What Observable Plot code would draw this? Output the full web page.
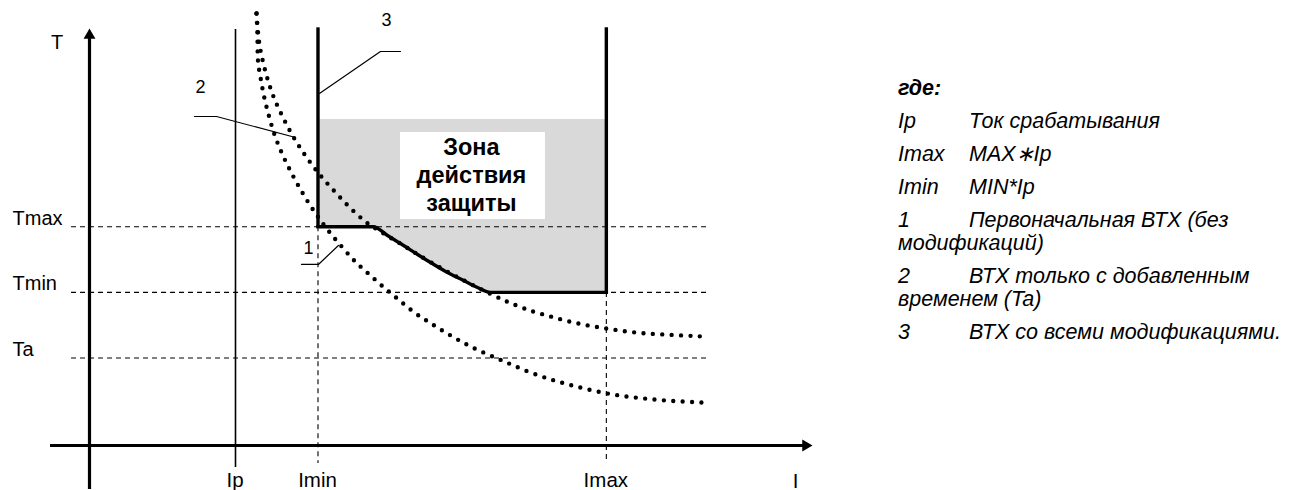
<!DOCTYPE html>
<html><head><meta charset="utf-8">
<script src="https://cdn.jsdelivr.net/npm/d3@7"></script>
<script src="https://cdn.jsdelivr.net/npm/@observablehq/plot@0.6"></script>
<style>
body{margin:0;background:#fff;font-family:"Liberation Sans",Arial,sans-serif;}
#wrap{position:relative;width:1293px;height:490px;overflow:hidden;background:#fff}
#chart{position:absolute;left:0;top:0}
#legend{position:absolute;left:898px;top:77px;font-size:21.5px;line-height:23px;font-style:italic;white-space:nowrap;color:#000}
#legend p{margin:0 0 10px 0}
#legend .k{display:inline-block;width:71px}
#legend .h{font-weight:bold}
</style></head><body>
<div id="wrap"><div id="chart"></div><div id="legend"></div></div>
<script>
// ---------- data ----------
// characteristic levels
const Ip = 1.0, Imin = 1.565, Imax = 3.54;
const Ta = 1.0, Tmin = 1.75, Tmax = 2.5;

// curve 1: initial characteristic (lower dotted)
const curve1I = [1.144, 1.151, 1.151, 1.158, 1.171, 1.192, 1.226, 1.260, 1.308, 1.363, 1.425, 1.493, 1.565, 1.644, 1.733, 1.822, 1.911, 2.014, 2.110, 2.219, 2.329, 2.438, 2.555, 2.664, 2.795, 2.904, 3.034, 3.158, 3.281, 3.411, 3.541, 3.671, 3.801, 3.932, 4.068, 4.199];
const curve1T = [4.937, 4.720, 4.434, 4.320, 4.217, 4.000, 3.783, 3.577, 3.371, 3.177, 2.983, 2.789, 2.611, 2.434, 2.263, 2.091, 1.966, 1.806, 1.680, 1.520, 1.406, 1.291, 1.177, 1.086, 0.994, 0.914, 0.823, 0.754, 0.697, 0.640, 0.594, 0.560, 0.537, 0.514, 0.503, 0.491];

// curve 2: with added time Ta (upper dotted)
const curve2I = [1.144, 1.158, 1.185, 1.219, 1.260, 1.315, 1.377, 1.445, 1.521, 1.603, 1.692, 1.781, 1.877, 1.945, 2.151, 2.336, 2.562, 2.767, 2.904, 3.034, 3.158, 3.281, 3.411, 3.541, 3.671, 3.801, 3.932, 4.068, 4.199];
const curve2T = [4.937, 4.617, 4.400, 4.183, 3.977, 3.783, 3.577, 3.394, 3.211, 3.040, 2.880, 2.720, 2.571, 2.491, 2.286, 2.091, 1.886, 1.714, 1.611, 1.531, 1.474, 1.417, 1.371, 1.337, 1.303, 1.280, 1.269, 1.257, 1.246];

// curve 3: with all modifications (thick), lower edge of the zone
const curve3I = [Imin, 1.945, 2.041, 2.151, 2.247, 2.336, 2.452, 2.562, 2.658, 2.747, Imax];
const curve3T = [Tmax, Tmax, 2.400, 2.286, 2.183, 2.091, 1.977, 1.886, 1.806, Tmin, Tmin];
const curve3Top = 4.754;
const zoneTop = 3.726;

// labels
const zoneLabel = "Зона\nдействия\nзащиты";
const tLabels = ["Tmax", "Tmin", "Ta"];
const tLevels = [Tmax, Tmin, Ta];
const iLabels = ["Ip", "Imin", "Imax"];
const iLevels = [Ip, Imin, Imax];
const numLabels = ["1", "2", "3"];

// legend
const legendTitle = "где:";
const legendKeys = ["Ip", "Imax", "Imin", "1", "2", "3"];
const legendTexts = ["Ток срабатывания", "MAX∗Ip", "MIN*Ip", "Первоначальная ВТХ (без\nмодификаций)", "ВТХ только с добавленным\nвременем (Ta)", "ВТХ со всеми модификациями."];

// ---------- build tables ----------
const c1 = curve1I.map((I, i) => ({I, T: curve1T[i]}));
const c2 = curve2I.map((I, i) => ({I, T: curve2T[i]}));
const c3 = curve3I.map((I, i) => ({I, T: curve3T[i]}));
const tRows = tLabels.map((s, i) => ({s, T: tLevels[i]}));
const iRows = iLabels.map((s, i) => ({s, I: iLevels[i], dx: [-11, 0, 3][i]}));
const dashedV = [{I: Imin, T: Tmax}, {I: Imax, T: Tmin}];
const leaders = [
  {id: 3, I: 1.575, T: 4.023}, {id: 3, I: 1.993, T: 4.503}, {id: 3, I: 2.130, T: 4.503},
  {id: 2, I: 0.719, T: 3.760}, {id: 2, I: 0.870, T: 3.760}, {id: 2, I: 1.411, T: 3.520},
  {id: 1, I: 1.452, T: 2.069}, {id: 1, I: 1.568, T: 2.069}, {id: 1, I: 1.705, T: 2.286}
];
const numPos = [{s: numLabels[0], I: 1.5, T: 2.183}, {s: numLabels[1], I: 0.760, T: 4.023}, {s: numLabels[2], I: 2.034, T: 4.789}];

const font = '"Liberation Sans", Arial, sans-serif';
const dotted = {x: "I", y: "T", curve: "basis", stroke: "black", strokeWidth: 4.4, strokeDasharray: "0,9.4", strokeLinecap: "round"};

const chart = Plot.plot({
  width: 860, height: 490,
  marginLeft: 0, marginRight: 0, marginTop: 0, marginBottom: 0,
  x: {domain: [-89/146, 771/146], axis: null},
  y: {domain: [-45/87.5, 445/87.5], axis: null},
  style: {fontFamily: font, background: "white", overflow: "visible"},
  marks: [
    Plot.areaY(c3, {x: "I", y1: "T", y2: zoneTop, curve: "monotone-x", fill: "#d9d9d9"}),
    Plot.rect([0], {x1: 2.130, x2: 3.123, y1: 2.583, y2: 3.577, fill: "white"}),
    Plot.text([zoneLabel], {x: 2.616, y: 3.097, text: d => d, fontSize: 23.5, fontWeight: "bold", lineHeight: 1.19, lineAnchor: "middle", textAnchor: "middle", fontFamily: font}),
    Plot.ruleY(tLevels, {x1: -0.123, x2: 4.253, stroke: "black", strokeWidth: 1.1, strokeDasharray: "5,4"}),
    Plot.ruleX(dashedV, {x: "I", y1: "T", y2: -0.206, stroke: "black", strokeWidth: 1.1, strokeDasharray: "5,4"}),
    Plot.ruleX([Ip], {y1: -0.251, y2: curve3Top, stroke: "black", strokeWidth: 1.6}),
    // axes
    Plot.ruleX([0], {y1: -0.503, y2: 4.70, stroke: "black", strokeWidth: 3.2}),
    Plot.ruleY([0], {x1: -0.267, x2: 4.90, stroke: "black", strokeWidth: 3.2}),
    Plot.dot([0], {x: 0, y: 4.766, symbol: "triangle", r: 4.4, fill: "black", stroke: "none", dy: 6.8}),
    Plot.dot([0], {x: 4.952, y: 0, symbol: "triangle", r: 4.4, fill: "black", stroke: "none", rotate: 90, dx: -6.8}),
    // dotted characteristics
    Plot.line(c1, dotted),
    Plot.line(c2, dotted),
    // thick characteristic 3
    Plot.ruleX([Imin], {y1: Tmax, y2: curve3Top, stroke: "black", strokeWidth: 3.4, strokeLinecap: "square"}),
    Plot.ruleX([Imax], {y1: Tmin, y2: curve3Top, stroke: "black", strokeWidth: 3.4, strokeLinecap: "square"}),
    Plot.line(c3, {x: "I", y: "T", curve: "monotone-x", stroke: "black", strokeWidth: 3.4, strokeLinecap: "square"}),
    // leaders
    Plot.line(leaders, {x: "I", y: "T", z: "id", stroke: "black", strokeWidth: 1.2}),
    // labels
    Plot.text(numPos, {x: "I", y: "T", text: "s", fontSize: 18, lineAnchor: "bottom", textAnchor: "middle", fontFamily: font}),
    Plot.text(tRows, {x: 0, y: "T", text: "s", dx: -77, dy: -2, fontSize: 20, lineAnchor: "bottom", textAnchor: "start", fontFamily: font}),
    Plot.text(["T"], {x: 0, y: 4.537, text: d => d, dx: -32.5, fontSize: 20, lineAnchor: "bottom", textAnchor: "middle", fontFamily: font}),
    Plot.text(iRows, {x: "I", y: -0.48, text: "s", dx: "dx", fontSize: 20.5, lineAnchor: "bottom", textAnchor: "middle", fontFamily: font}),
    Plot.text(["I"], {x: 4.836, y: -0.48, text: d => d, fontSize: 20.5, lineAnchor: "bottom", textAnchor: "middle", fontFamily: font})
  ]
});
document.getElementById("chart").appendChild(chart);

// legend
const lg = document.getElementById("legend");
const head = document.createElement("p");
head.className = "h";
head.textContent = legendTitle;
lg.appendChild(head);
legendKeys.forEach((k, i) => {
  const p = document.createElement("p");
  const s = document.createElement("span");
  s.className = "k";
  s.textContent = k;
  p.appendChild(s);
  legendTexts[i].split("\n").forEach((line, j) => {
    if (j > 0) p.appendChild(document.createElement("br"));
    p.appendChild(document.createTextNode(line));
  });
  lg.appendChild(p);
});
</script>
</body></html>
